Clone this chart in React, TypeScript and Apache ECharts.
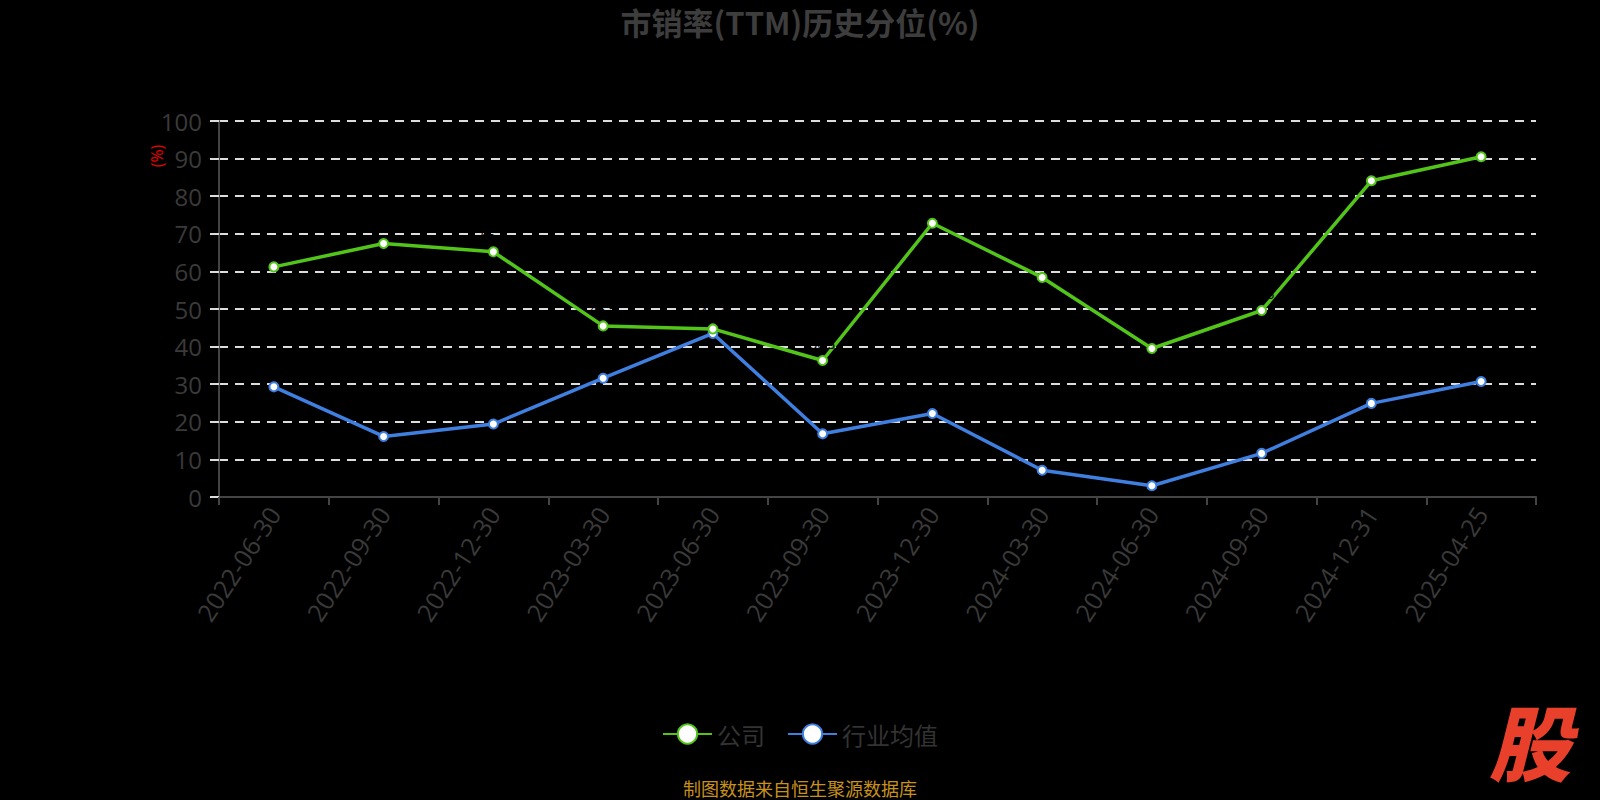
import React, { useEffect, useRef } from "react";
import * as echarts from "echarts";

const categories = [
  "2022-06-30", "2022-09-30", "2022-12-30", "2023-03-30", "2023-06-30", "2023-09-30",
  "2023-12-30", "2024-03-30", "2024-06-30", "2024-09-30", "2024-12-31", "2025-04-25",
];
const companyValues = [61.2, 67.4, 65.2, 45.5, 44.7, 36.3, 72.8, 58.4, 39.5, 49.6, 84.1, 90.5];
const industryValues = [29.3, 16.1, 19.4, 31.6, 43.5, 16.8, 22.2, 7.1, 3.0, 11.6, 24.9, 30.7];
const yTicks = { min: 0, max: 100, interval: 10 };

const FONT = "'Noto Sans CJK SC', 'Open Sans', sans-serif";
const NUMFONT = "'Open Sans', 'Noto Sans CJK SC', sans-serif";

export default function App() {
  const ref = useRef<HTMLDivElement>(null);
  useEffect(() => {
    if (!ref.current) return;
    document.body.style.margin = "0";
    const chart = echarts.init(ref.current, undefined, { renderer: "svg" });
    chart.setOption({
      animation: false,
      backgroundColor: "#000",
      textStyle: { fontFamily: FONT },
      title: {
        text: "市销率(TTM)历史分位(%)",
        left: "center",
        top: 1,
        textStyle: { color: "#3d3d3d", fontSize: 31, fontWeight: "bold", fontFamily: FONT },
      },
      grid: { left: 219, right: 64, top: 121, bottom: 303, containLabel: false },
      legend: {
        bottom: 49,
        left: "center",
        itemWidth: 49,
        itemHeight: 24,
        itemGap: 22,
        textStyle: { color: "#333", fontSize: 24, fontFamily: FONT },
        data: ["公司", "行业均值"],
      },
      xAxis: {
        type: "category",
        data: categories,
        boundaryGap: true,
        axisLine: { lineStyle: { color: "#444", width: 2 } },
        axisTick: { show: true, length: 8, lineStyle: { color: "#444", width: 2 } },
        axisLabel: { color: "#3a3a3a", fontSize: 25, rotate: 57, margin: 12, fontFamily: NUMFONT },
      },
      yAxis: {
        type: "value",
        min: yTicks.min,
        max: yTicks.max,
        interval: yTicks.interval,
        axisLine: { show: true, lineStyle: { color: "#444", width: 2 } },
        axisTick: { show: true, length: 9, lineStyle: { color: "#ddd", width: 2 } },
        axisLabel: { color: "#3a3a3a", fontSize: 24, margin: 17, fontFamily: NUMFONT },
        splitLine: { show: true, lineStyle: { color: "#ddd", type: [9, 7], width: 2 } },
      },
      graphic: [
        {
          type: "text",
          x: 157,
          y: 156,
          rotation: Math.PI / 2,
          style: {
            text: "(%)",
            fill: "#e00",
            fontSize: 16,
            fontFamily: NUMFONT,
            align: "center",
            verticalAlign: "middle",
          },
        },
        {
          type: "text",
          x: 800,
          y: 788,
          style: {
            text: "制图数据来自恒生聚源数据库",
            fill: "#c8911c",
            fontSize: 18,
            fontFamily: FONT,
            align: "center",
            verticalAlign: "middle",
          },
        },
        {
          type: "text",
          x: 1530,
          y: 739,
          style: {
            text: "股",
            fill: "#e8402a",
            fontSize: 82,
            fontWeight: 900,
            fontStyle: "italic",
            fontFamily: FONT,
            align: "center",
            verticalAlign: "middle",
          },
        },
      ],
      series: [
        {
          name: "公司",
          type: "line",
          data: companyValues,
          symbol: "circle",
          symbolSize: 9,
          lineStyle: { color: "#52c41a", width: 3.5 },
          itemStyle: { color: "#fff", borderColor: "#52c41a", borderWidth: 2 },
          label: { show: true, position: "top", color: "#000", fontSize: 13 },
          z: 3,
        },
        {
          name: "行业均值",
          type: "line",
          data: industryValues,
          symbol: "circle",
          symbolSize: 9,
          lineStyle: { color: "#3f7fe0", width: 3.5 },
          itemStyle: { color: "#fff", borderColor: "#3f7fe0", borderWidth: 2 },
          z: 2,
        },
      ],
    });
    return () => chart.dispose();
  }, []);
  return <div ref={ref} style={{ width: 1600, height: 800 }} />;
}
